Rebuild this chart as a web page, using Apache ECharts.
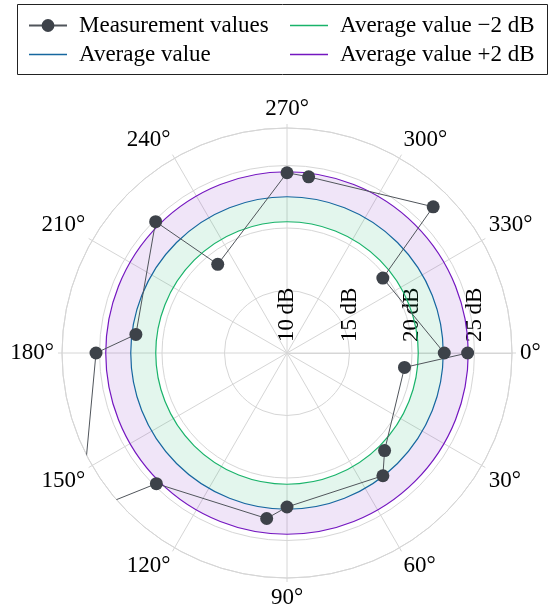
<!DOCTYPE html>
<html>
<head>
<meta charset="utf-8">
<script src="https://cdn.jsdelivr.net/npm/echarts@6/dist/echarts.min.js"></script>
<style>html,body{margin:0;padding:0;background:#fff}#c{width:553px;height:608px}</style>
</head>
<body>
<div id="c"></div>
<script>
// ---- data ----
const angles   = [0, 7, 45, 52, 90, 97, 135, 142, 180, 187, 225, 232, 270, 277, 315, 322, 360];
const measured = [24.45, 19.47, 21.04, 22.46, 22.32, 23.34, 24.78, 30.9, 25.28, 22.18, 24.86, 19.0, 24.42, 24.2, 26.54, 19.73, 22.58];
const averageValue = 22.5;
const bandOffset = 2;
const radiusMin = 10, radiusMax = 28, radiusStep = 5;
const angleStep = 30;
const names = ['Measurement values', 'Average value', 'Average value \u22122 dB', 'Average value +2 dB'];

// ---- styling ----
const FONT = 'Liberation Serif';
const FS = 23;
const cGreen = '#19b36a', cBlue = '#16679f', cPurple = '#7416c0';
const gridColor = '#d6d6d6';
const linePath = 'path://M0 0H38V1.4H0Z';

function ring(low, high, color, opacity) {
  return {
    type: 'custom', coordinateSystem: 'polar', silent: true, z: 1,
    data: [[low, high]],
    renderItem: function (params, api) {
      const c = params.coordSys;
      const r0 = api.coord([api.value(0), 0])[2];
      const r1 = api.coord([api.value(1), 0])[2];
      return { type: 'sector', shape: { cx: c.cx, cy: c.cy, r0: r0, r: r1, startAngle: 0, endAngle: Math.PI * 2 },
               style: { fill: color, opacity: opacity } };
    }
  };
}
function circle(name, value, color) {
  return {
    type: 'custom', coordinateSystem: 'polar', name: name, silent: true, z: 2,
    itemStyle: { color: color },
    data: [[value, 0]],
    renderItem: function (params, api) {
      const c = params.coordSys;
      const r = api.coord([api.value(0), 0])[2];
      return { type: 'circle', shape: { cx: c.cx, cy: c.cy, r: r },
               style: { fill: 'none', stroke: color, lineWidth: 1.2 } };
    }
  };
}

const legendCommon = {
  orient: 'vertical', top: 9, itemWidth: 38, itemHeight: 16, itemGap: 6,
  selectedMode: false,
  textStyle: { fontFamily: FONT, fontSize: FS, color: '#000', lineHeight: 22, padding: [0, 0, 0, 7] }
};

const chart = echarts.init(document.getElementById('c'));
chart.setOption({
  animation: false,
  backgroundColor: '#fff',
  graphic: [{
    type: 'rect', left: 15, top: 2, z: 100, silent: true,
    shape: { width: 530, height: 70 },
    style: { fill: 'none', stroke: '#222', lineWidth: 1 }
  }],
  legend: [
    Object.assign({}, legendCommon, { left: 23, data: [{ name: names[0] }, { name: names[1], icon: linePath }] }),
    Object.assign({}, legendCommon, { left: 285, data: [{ name: names[2], icon: linePath }, { name: names[3], icon: linePath }] })
  ],
  polar: { center: [287, 353], radius: 225 },
  angleAxis: {
    type: 'value', min: 0, max: 360, interval: angleStep, startAngle: 0, clockwise: true,
    axisLine: { show: true, lineStyle: { color: gridColor, width: 1 } },
    axisTick: { show: true, length: 4, lineStyle: { color: gridColor, width: 1 } },
    axisLabel: { show: true, margin: 8, color: '#000', fontFamily: FONT, fontSize: FS,
                 formatter: function (v) { return v >= 360 ? '' : v + '\u00b0'; } },
    splitLine: { show: true, lineStyle: { color: gridColor, width: 1 } }
  },
  radiusAxis: {
    type: 'value', min: radiusMin, max: radiusMax, interval: radiusStep,
    axisLine: { show: true, lineStyle: { color: gridColor, width: 1 } },
    axisTick: { show: false },
    axisLabel: { show: true, rotate: 90, margin: 11, showMaxLabel: false, color: '#000', fontFamily: FONT, fontSize: FS,
                 formatter: function (v) { return v + '\u2009dB'; } },
    splitLine: { show: true, lineStyle: { color: gridColor, width: 1 } }
  },
  series: [
    ring(averageValue - bandOffset, averageValue, cGreen, 0.12),
    ring(averageValue, averageValue + bandOffset, cPurple, 0.11),
    circle(names[2], averageValue - bandOffset, cGreen),
    circle(names[1], averageValue, cBlue),
    circle(names[3], averageValue + bandOffset, cPurple),
    {
      type: 'line', name: names[0], coordinateSystem: 'polar', z: 5, clip: true,
      data: angles.map(function (a, i) { return [measured[i], a]; }),
      symbol: 'circle', symbolSize: 13, showSymbol: true,
      lineStyle: { color: '#50555b', width: 1 },
      itemStyle: { color: '#3d4249' }
    }
  ]
});
</script>
</body>
</html>
